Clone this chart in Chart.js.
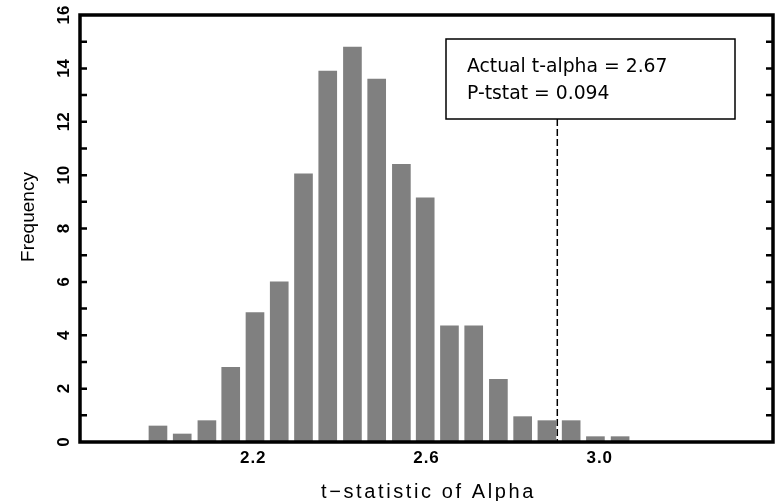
<!DOCTYPE html>
<html>
<head>
<meta charset="utf-8">
<script src="https://cdn.jsdelivr.net/npm/chart.js@4.4.0/dist/chart.umd.min.js"></script>
<style>
  body { margin: 0; background: #fff; }
  #wrap { width: 775px; height: 501px; }
</style>
</head>
<body>
<div id="wrap"><canvas id="hist" width="775" height="501"></canvas></div>
<script>
// histogram bins (t-statistic of alpha) and their frequencies
const binCenters = [1.980, 2.036, 2.093, 2.148, 2.204, 2.260, 2.316, 2.372, 2.429, 2.485,
                    2.542, 2.597, 2.653, 2.709, 2.766, 2.822, 2.878, 2.934, 2.990, 3.047];
const frequencies = [0.6, 0.3, 0.8, 2.8, 4.85, 6.0, 10.05, 13.9, 14.8, 13.6,
                     10.4, 9.15, 4.35, 4.35, 2.35, 0.95, 0.8, 0.8, 0.2, 0.2];
const xTicks = [2.2, 2.6, 3.0];
const yTicks = [0, 2, 4, 6, 8, 10, 12, 14, 16];
const actualLine = 2.902; // dashed marker position on the x axis
const boxLines = ['Actual t-alpha = 2.67', 'P-tstat = 0.094'];

const AXIS_FONT = '"Liberation Sans", Arial, sans-serif';

// frame, inward ticks, rotated y labels, titles, marker and text box
const framePlugin = {
    id: 'frame',
    beforeDraw(chart) {
        chart.ctx.letterSpacing = '1px'; // x tick labels are spaced out
    },
    afterDraw(chart) {
        const { ctx, chartArea: a, scales: { x, y } } = chart;
        ctx.save();
        ctx.letterSpacing = '0px';
        ctx.fillStyle = '#000';
        ctx.strokeStyle = '#000';

        // tick marks on both sides, every unit
        ctx.lineWidth = 2.5;
        ctx.beginPath();
        for (let v = 1; v < 16; v++) {
            const py = y.getPixelForValue(v);
            ctx.moveTo(a.left, py); ctx.lineTo(a.left + 7, py);
            ctx.moveTo(a.right, py); ctx.lineTo(a.right - 7, py);
        }
        ctx.stroke();

        // frame
        ctx.lineWidth = 3.5;
        ctx.strokeRect(a.left, a.top, a.right - a.left, a.bottom - a.top);

        // y tick labels, rotated
        ctx.font = 'bold 17px ' + AXIS_FONT;
        ctx.textAlign = 'center';
        ctx.textBaseline = 'alphabetic';
        yTicks.forEach(v => {
            ctx.save();
            ctx.translate(68.5, y.getPixelForValue(v));
            ctx.rotate(-Math.PI / 2);
            ctx.fillText(String(v), 0, 0);
            ctx.restore();
        });

        // axis titles
        ctx.font = '19px ' + AXIS_FONT;
        ctx.letterSpacing = '0px';
        ctx.save();
        ctx.translate(34, 217);
        ctx.rotate(-Math.PI / 2);
        ctx.fillText('Frequency', 0, 0);
        ctx.restore();
        ctx.font = '20px ' + AXIS_FONT;
        ctx.letterSpacing = '2.6px';
        ctx.fillText('t\u2212statistic of Alpha', (a.left + a.right) / 2 + 2, 498);
        ctx.letterSpacing = '0px';

        // annotation box
        const bx = 446, by = 39, bw = 289, bh = 80;
        ctx.fillStyle = '#fff';
        ctx.fillRect(bx, by, bw, bh);
        ctx.lineWidth = 1.5;
        ctx.strokeRect(bx, by, bw, bh);

        // dashed marker
        const lx = x.getPixelForValue(actualLine);
        ctx.setLineDash([7, 3]);
        ctx.beginPath();
        ctx.moveTo(lx, by + bh);
        ctx.lineTo(lx, a.bottom);
        ctx.stroke();
        ctx.setLineDash([]);

        ctx.fillStyle = '#000';
        ctx.font = '18.8px "DejaVu Sans", Verdana, sans-serif';
        ctx.textAlign = 'left';
        ctx.fillText(boxLines[0], bx + 21, 72);
        ctx.fillText(boxLines[1], bx + 21, 98.5);
        ctx.restore();
    }
};

new Chart(document.getElementById('hist'), {
    type: 'bar',
    data: {
        datasets: [{
            data: binCenters.map((c, i) => ({ x: c, y: frequencies[i] })),
            backgroundColor: '#808080',
            borderWidth: 0,
            barThickness: 18
        }]
    },
    options: {
        responsive: false,
        animation: false,
        devicePixelRatio: 1,
        layout: { padding: { top: 15, right: 2, left: 0, bottom: 0 } },
        plugins: { legend: { display: false }, tooltip: { enabled: false } },
        scales: {
            x: {
                type: 'linear',
                min: 1.8,
                max: 3.4,
                offset: false,
                afterBuildTicks: s => { s.ticks = xTicks.map(v => ({ value: v })); },
                afterFit: s => { s.height = 59; },
                ticks: {
                    font: { family: AXIS_FONT, size: 17, weight: 'bold' },
                    color: '#000',
                    padding: 6,
                    maxRotation: 0,
                    autoSkip: false,
                    callback: v => Number(v).toFixed(1)
                },
                grid: { display: false, drawTicks: false },
                border: { display: false }
            },
            y: {
                min: 0,
                max: 16,
                afterFit: s => { s.width = 80; },
                ticks: { display: false },
                grid: { display: false, drawTicks: false },
                border: { display: false }
            }
        }
    },
    plugins: [framePlugin]
});
</script>
</body>
</html>
